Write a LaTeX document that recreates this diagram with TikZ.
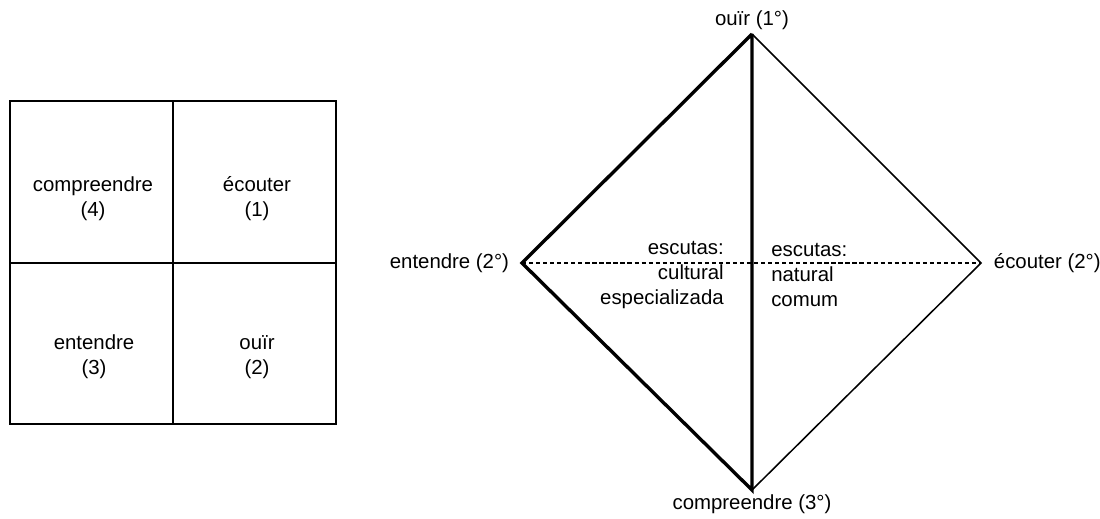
\documentclass[tikz,border=0pt]{standalone}
\usepackage{fontspec}
\setmainfont{Liberation Sans}
\usetikzlibrary{positioning}
\begin{document}
\begin{tikzpicture}[x=0.025cm, y=-0.025cm, font=\fontsize{14.5}{17.7}\selectfont,
  lbl/.style={align=center, inner sep=0pt},
  heavy/.style={line width=2.4pt}, light/.style={line width=1.1pt}]
  \useasboundingbox (0,0) rectangle (1100,519);
  \draw[line width=1.3pt] (10,101) rectangle (336,424) (173,101) -- (173,424) (10,263) -- (336,263);
  \node[lbl] (cell4) at (93,199) {compreendre\\(4)};
  \node[lbl] (cell1) at (257,199) {écouter\\(1)};
  \node[lbl] (cell3) at (94,357) {entendre\\(3)};
  \node[lbl] (cell2) at (257,357) {ouïr\\(2)};

  \coordinate (top) at (752,34);
  \coordinate (left) at (522,263);
  \coordinate (right) at (981,263);
  \coordinate (bottom) at (752,490);
  \node[above=3pt of top, inner sep=0pt] (ouir) {ouïr (1°)};
  \node[left=9pt of left, inner sep=0pt] (entendre) {entendre (2°)};
  \node[right=9pt of right, inner sep=0pt] (ecouter) {écouter (2°)};
  \node[below=3pt of bottom, inner sep=0pt] (comp) {compreendre (3°)};
  \draw[heavy, line join=miter] (top) -- (left) -- (bottom) -- (top);
  \draw[light] (top) -- (right) -- (bottom);
  \draw[dashed, line width=0.8pt, dash pattern=on 3pt off 2pt] (left) -- (right);
  \node[align=right, anchor=east, inner sep=0pt] (cultural) at (724,275) {escutas:\\cultural\\especializada};
  \node[align=left, anchor=west, inner sep=0pt] (natural) at (771,275) {escutas:\\natural\\comum};
\end{tikzpicture}
\end{document}
